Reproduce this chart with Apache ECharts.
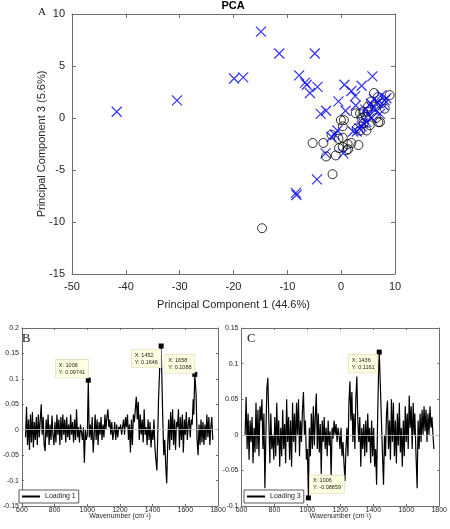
<!DOCTYPE html>
<html><head><meta charset="utf-8">
<script src="https://cdn.jsdelivr.net/npm/echarts@6/dist/echarts.min.js"></script>
<style>html,body{margin:0;padding:0;background:#fff}#c{width:450px;height:529px}</style>
</head><body><div id="c"></div>
<script>
// ---------- DATA ----------
const groupCross = [
  [-41.7,0.6],[-30.5,1.7],[-14.9,8.3],[-11.5,6.2],[-4.9,6.2],[-19.9,3.8],[-18.2,3.9],[-7.8,4.1],
  [-6.7,3.4],[-6.4,3.2],[-4.4,3.0],[-5.8,2.4],[0.6,3.2],[1.9,2.6],[3.8,3.1],[5.8,4.0],[2.6,2.1],
  [-0.5,1.6],[2.7,1.2],[0.8,0.7],[-3.8,0.4],[-2.8,0.7],[-0.7,-1.2],[-1.8,-1.8],[-1.2,-1.6],[-2.9,-3.4],
  [0.4,-3.4],[-4.5,-5.9],[-8.4,-7.2],[-8.3,-7.4],
  [7.5,2.2],[6.1,1.8],[8.1,1.7],[5.5,1.4],[6.8,1.5],[4.5,0.8],[5.9,0.9],[7.2,0.4],[5.0,0.3],
  [4.1,-0.5],[3.4,-1.0],[2.9,-1.3],[3.8,-0.8],[4.7,-0.4],[2.2,-1.3],[5.7,0.0],[6.4,0.8],[7.8,1.25],[8.4,1.9]
];
const groupCircle = [
  [6.1,2.4],[9.0,2.2],[5.0,1.1],[4.1,0.6],[2.7,0.45],[3.5,0.45],[4.6,0.1],[-0.05,-0.2],[0.5,-0.2],
  [0.3,-0.8],[6.9,-0.4],[6.5,0.0],[2.9,-1.0],[-1.8,-1.6],[-0.5,-2.0],[0.3,-1.9],[0.3,-2.8],[1.2,-2.5],
  [1.9,-2.4],[3.2,-2.6],[1.0,-3.1],[-5.3,-2.4],[-3.3,-2.4],[-2.8,-3.7],[-1.0,-3.6],[-1.6,-5.4],
  [-14.7,-10.6],[4.7,-1.2],[5.3,-0.7],[6.3,1.1],[7.5,1.4],[8.1,0.9],[7.2,-0.4],[4.9,0.6],[3.8,0.0],
  [4.2,-0.5],[3.5,-1.2],[-0.4,-2.9],[1.3,-3.0],[5.6,1.6],[6.8,2.0]
];

const wavenumber = [
  622,628,634,640,646,652,658,664,670,676,
  682,688,694,700,706,712,718,724,730,736,
  742,748,754,760,766,772,778,784,790,796,
  802,808,814,820,826,832,838,844,850,856,
  862,868,874,880,886,892,898,904,910,916,
  922,928,934,940,946,952,958,964,970,976,
  982,988,994,1000,1006,1012,1018,1024,1030,1036,
  1042,1048,1054,1060,1066,1072,1078,1084,1090,1096,
  1102,1108,1114,1120,1126,1132,1138,1144,1150,1156,
  1162,1168,1174,1180,1186,1192,1198,1204,1210,1216,
  1222,1228,1234,1240,1246,1252,1258,1264,1270,1276,
  1282,1288,1294,1300,1306,1312,1318,1324,1330,1336,
  1342,1348,1354,1360,1366,1372,1378,1384,1390,1396,
  1402,1408,1414,1420,1426,1432,1436,1444,1452,1456,
  1462,1468,1474,1480,1486,1492,1498,1504,1510,1516,
  1522,1528,1534,1540,1546,1552,1558,1564,1570,1576,
  1582,1588,1594,1600,1606,1612,1618,1624,1630,1636,
  1642,1648,1652,1658,1666,1672,1678,1684,1690,1696,
  1702,1708,1714,1720,1726,1732,1738,1744,1750,1756,
  1762,1768
];
const loading1 = [
  -0.015,0.045,-0.03,0.02,-0.04,0.03,-0.025,0.035,-0.035,0.015,
  -0.02,0.025,-0.03,0.03,-0.015,0.02,0.05,-0.01,0.025,-0.03,
  -0.042,0.02,-0.015,0.03,-0.03,0.01,-0.02,0.028,-0.01,-0.03,
  0.015,-0.025,0.03,-0.01,0.02,-0.03,0.025,-0.02,0.03,-0.01,
  0.02,-0.025,0.025,-0.015,0.01,-0.02,0.03,-0.01,0.015,-0.025,
  0.02,-0.02,0.04,-0.015,0.005,-0.025,0.01,-0.005,-0.02,0.005,
  -0.065,0.0,-0.02,-0.01,0.09741,-0.015,0.01,-0.02,0.025,-0.045,
  -0.01,0.03,-0.02,0.02,-0.03,0.015,-0.01,0.025,-0.02,0.01,
  -0.015,0.03,0.0,0.025,0.04,0.005,0.02,-0.01,0.015,-0.02,
  -0.005,0.015,-0.02,0.01,-0.015,0.005,0.0,0.01,-0.01,0.005,
  0.02,-0.01,0.025,0.005,0.03,-0.02,0.01,-0.045,0.02,-0.03,
  0.03,0.015,0.04,0.065,0.02,0.055,-0.02,0.03,-0.01,0.02,
  -0.025,0.04,-0.01,0.005,-0.03,0.02,-0.02,0.015,-0.035,0.0,
  -0.02,0.02,-0.035,-0.06,-0.08,0.0,0.06,0.13,0.1646,0.11,
  0.02,-0.05,-0.02,-0.07,-0.105,-0.03,0.02,-0.04,0.035,-0.02,
  0.04,-0.03,0.02,-0.04,0.015,0.005,0.04,-0.035,0.025,-0.02,
  0.03,-0.045,0.02,-0.01,0.035,-0.02,0.01,0.025,-0.015,0.02,
  0.01,0.06,0.03,0.1088,0.07,-0.02,-0.05,0.01,-0.03,0.02,
  -0.025,0.015,-0.03,0.01,-0.02,0.03,-0.015,0.025,-0.03,0.005,
  0.025,-0.02
];
const loading3 = [
  0.0,0.053,-0.02,0.03,-0.035,0.02,-0.01,0.025,-0.04,0.01,
  -0.025,0.045,-0.02,0.035,-0.03,0.04,0.02,0.05,-0.02,0.03,
  -0.075,0.0,0.065,0.08,0.02,-0.04,0.03,-0.02,0.0,-0.035,
  0.025,-0.03,0.045,-0.015,0.02,-0.045,0.01,-0.03,0.035,-0.02,
  0.015,-0.04,0.05,-0.01,0.025,-0.035,0.02,-0.045,0.045,-0.01,
  0.03,-0.025,0.045,0.0,0.05,-0.03,0.02,-0.01,0.035,0.06,
  0.0,0.02,-0.035,-0.02,-0.08859,0.01,-0.03,0.03,-0.02,0.04,
  -0.015,0.025,0.058,-0.02,0.03,-0.025,0.015,-0.055,0.02,-0.01,
  0.025,-0.02,0.01,-0.03,0.02,-0.015,0.005,-0.06,0.01,-0.005,
  0.02,0.0,0.015,-0.01,0.01,0.0,-0.02,0.01,-0.03,-0.01,
  -0.04,-0.065,-0.02,0.01,-0.03,0.045,0.075,0.02,0.06,-0.01,
  0.03,-0.02,0.05,0.082,0.02,-0.01,0.025,-0.045,0.01,-0.02,
  0.015,-0.03,0.02,-0.025,0.03,-0.01,0.01,-0.04,0.02,-0.03,
  0.01,-0.045,-0.02,-0.07,0.02,0.09,0.1161,0.06,0.0,-0.03,
  -0.07,0.0,-0.03,0.03,0.048,-0.02,0.02,-0.035,0.05,-0.01,
  0.045,-0.03,0.02,-0.04,0.03,-0.015,0.045,-0.025,0.01,-0.045,
  0.02,-0.03,0.04,-0.01,0.03,-0.02,0.055,0.01,0.04,-0.02,
  0.045,0.0,0.03,-0.02,-0.075,0.02,-0.02,0.03,-0.01,0.035,
  0.0,0.04,0.005,0.035,-0.01,0.03,0.0,0.04,0.01,0.025,
  0.0,-0.02
];
const tips1 = [[1006,0.09741],[1452,0.1646],[1658,0.1088]];
const tips3 = [[1436,0.1161],[1006,-0.08859]];

// ---------- STYLE ----------
const FONT = '"Liberation Sans", Arial, sans-serif';
const SERIF = '"Liberation Serif", "Times New Roman", serif';
const AX = '#6e6e6e';
const TXT = '#262626';
const tipOffsets1 = [[-30,-18],[-27,6],[-27,-17]];
const tipOffsets3 = [[-28,5],[4,-20]];
const plain = v => String(+(+v).toFixed(4));

function nameOpts(o) {
  return o.name ? {name: o.name, nameLocation: 'middle', nameGap: o.nameGap, nameMoveOverlap: false,
    nameTextStyle: {color: TXT, fontSize: o.nfs, fontFamily: FONT}} : {};
}
function xAx(grid, min, max, interval, top, o) {
  return Object.assign({
    gridIndex: grid, type: 'value', min, max, interval,
    position: top ? 'top' : 'bottom',
    axisLine: {show: true, onZero: false, lineStyle: {color: AX, width: 1}},
    axisTick: {show: true, inside: true, length: o.tick, lineStyle: {color: AX}},
    axisLabel: {show: !top, color: TXT, fontSize: o.fs, fontFamily: FONT, margin: o.margin, formatter: plain},
    splitLine: {show: false}
  }, top ? {} : nameOpts(o));
}
function yAx(grid, min, max, interval, right, o) {
  return Object.assign({
    gridIndex: grid, type: 'value', min, max, interval,
    position: right ? 'right' : 'left',
    axisLine: {show: true, onZero: false, lineStyle: {color: AX, width: 1}},
    axisTick: {show: true, inside: true, length: o.tick, lineStyle: {color: AX}},
    axisLabel: {show: !right, color: TXT, fontSize: o.fs, fontFamily: FONT, margin: o.margin, formatter: plain},
    splitLine: {show: false}
  }, right ? {} : nameOpts(o));
}

const sx = {tick: 4, fs: 11, margin: 7, name: 'Principal Component 1 (44.6%)', nameGap: 25, nfs: 11};
const sy = {tick: 4, fs: 11, margin: 7, name: 'Principal Component 3 (5.6%)', nameGap: 25, nfs: 11};
const bx = {tick: 2, fs: 7, margin: 1, name: 'Wavenumber (cm\u207B\u00B9)', nameGap: 7, nfs: 7};
const by = {tick: 2, fs: 7, margin: 3};

function tipPoints(tips, offs) {
  return tips.map((t, i) => ({
    coord: t,
    label: {formatter: 'X: ' + t[0] + '\nY: ' + t[1], position: offs[i]}
  }));
}
const markPointBase = {
  symbol: 'rect', symbolSize: 5, itemStyle: {color: '#000'}, silent: true,
  label: {show: true, color: '#222', fontSize: 5.5, lineHeight: 7, fontFamily: FONT,
    backgroundColor: '#ffffe1', borderColor: '#d9d9b8', borderWidth: 0.6, padding: [2, 3],
    align: 'left', verticalAlign: 'top'}
};
const zeroLine = {silent: true, symbol: 'none', label: {show: false},
  lineStyle: {color: '#c8c8c8', width: 0.8, type: 'solid'}, data: [{yAxis: 0}]};
const legendBase = {itemWidth: 18, itemHeight: 2, padding: [3, 3], top: 490,
  borderColor: '#333', borderWidth: 0.8, backgroundColor: '#fff', borderRadius: 0,
  textStyle: {fontSize: 7, color: '#222', fontFamily: FONT}};

const chart = echarts.init(document.getElementById('c'));
chart.setOption({
  animation: false,
  backgroundColor: '#fff',
  title: [
    {text: 'PCA', left: 233, textAlign: 'center', top: 0, padding: 0,
      textStyle: {fontFamily: FONT, fontSize: 11, fontWeight: 'bold', color: '#000'}},
    {text: 'A', left: 38, top: 7, padding: 0, textStyle: {fontFamily: SERIF, fontSize: 11, fontWeight: 'normal', color: '#111'}},
    {text: 'B', left: 22, top: 332, padding: 0, textStyle: {fontFamily: SERIF, fontSize: 12.5, fontWeight: 'normal', color: '#111'}},
    {text: 'C', left: 247, top: 332, padding: 0, textStyle: {fontFamily: SERIF, fontSize: 12.5, fontWeight: 'normal', color: '#111'}}
  ],
  legend: [
    Object.assign({data: [{name: 'Loading 1', icon: 'rect'}], left: 19}, legendBase),
    Object.assign({data: [{name: 'Loading 3', icon: 'rect'}], left: 244}, legendBase)
  ],
  grid: [
    {left: 72, top: 14, width: 323, height: 260},
    {left: 17, top: 328, width: 201, height: 178},
    {left: 241.5, top: 328, width: 201.5, height: 178}
  ],
  xAxis: [
    xAx(0, -50, 10, 10, false, sx), xAx(0, -50, 10, 10, true, sx),
    xAx(1, 600, 1800, 200, false, bx), xAx(1, 600, 1800, 200, true, bx),
    xAx(2, 600, 1800, 200, false, bx), xAx(2, 600, 1800, 200, true, bx)
  ],
  yAxis: [
    yAx(0, -15, 10, 5, false, sy), yAx(0, -15, 10, 5, true, sy),
    yAx(1, -0.15, 0.2, 0.05, false, by), yAx(1, -0.15, 0.2, 0.05, true, by),
    yAx(2, -0.1, 0.15, 0.05, false, by), yAx(2, -0.1, 0.15, 0.05, true, by)
  ],
  series: [
    {type: 'scatter', name: 'o', xAxisIndex: 0, yAxisIndex: 0, data: groupCircle,
      symbol: 'circle', symbolSize: 9,
      itemStyle: {color: 'rgba(0,0,0,0)', borderColor: '#000', borderWidth: 1}},
    {type: 'scatter', name: 'x', xAxisIndex: 0, yAxisIndex: 0, data: groupCross,
      symbol: 'path://M0,0L10,10M10,0L0,10', symbolSize: 10,
      itemStyle: {color: 'rgba(0,0,0,0)', borderColor: '#0000f0', borderWidth: 1.2}},
    {type: 'line', name: 'Loading 1', xAxisIndex: 2, yAxisIndex: 2,
      data: wavenumber.map((w, i) => [w, loading1[i]]),
      symbol: 'none', lineStyle: {color: '#000', width: 1.2}, itemStyle: {color: '#000'},
      markLine: zeroLine,
      markPoint: Object.assign({}, markPointBase, {data: tipPoints(tips1, tipOffsets1)})},
    {type: 'line', name: 'Loading 3', xAxisIndex: 4, yAxisIndex: 4,
      data: wavenumber.map((w, i) => [w, loading3[i]]),
      symbol: 'none', lineStyle: {color: '#000', width: 1.2}, itemStyle: {color: '#000'},
      markLine: zeroLine,
      markPoint: Object.assign({}, markPointBase, {data: tipPoints(tips3, tipOffsets3)})}
  ]
});
</script></body></html>
